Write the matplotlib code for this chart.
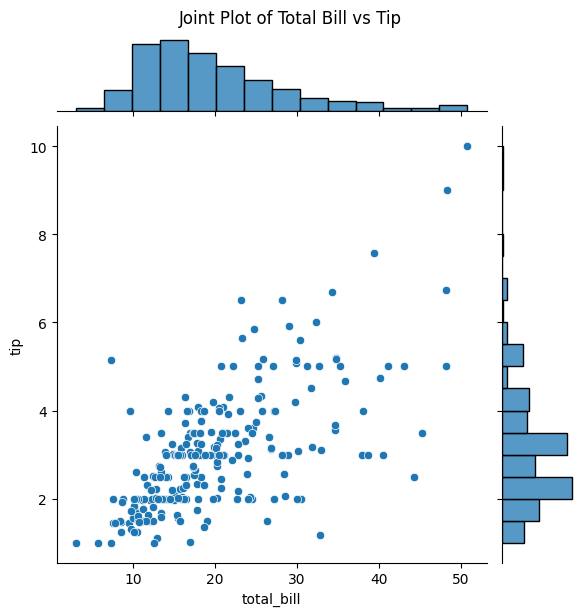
import numpy as np
import pandas as pd
import matplotlib
matplotlib.use("Agg")
import matplotlib.pyplot as plt
import seaborn as sns

total_bill = [16.99, 10.34, 21.01, 23.68, 24.59, 25.29, 8.77, 26.88, 15.04, 14.78,
              10.27, 35.26, 15.42, 18.43, 14.83, 21.58, 10.33, 16.29, 16.97, 20.65,
              17.92, 20.29, 15.77, 39.42, 19.82, 17.81, 13.37, 12.69, 21.70, 19.65,
              9.55, 18.35, 15.06, 20.69, 17.78, 24.06, 16.31, 16.93, 18.69, 31.27,
              16.04, 17.46, 13.94, 9.68, 30.40, 18.29, 22.23, 32.40, 28.55, 18.04,
              12.54, 10.29, 34.81, 9.94, 25.56, 19.49, 38.01, 26.41, 11.24, 48.27,
              20.29, 13.81, 11.02, 18.29, 17.59, 20.08, 16.45, 3.07, 20.23, 15.01,
              12.02, 17.07, 26.86, 25.28, 14.73, 10.51, 17.92, 27.20, 22.76, 17.29,
              19.44, 16.66, 10.07, 32.68, 15.98, 34.83, 13.03, 18.28, 24.71, 21.16,
              28.97, 22.49, 5.75, 16.32, 22.75, 40.17, 27.28, 12.03, 21.01, 12.46,
              11.35, 15.38, 44.30, 22.42, 20.92, 15.36, 20.49, 25.21, 18.24, 14.31,
              14.00, 7.25, 38.07, 23.95, 25.71, 17.31, 29.93, 10.65, 12.43, 24.08,
              11.69, 13.42, 14.26, 15.95, 12.48, 29.80, 8.52, 14.52, 11.38, 22.82,
              19.08, 20.27, 11.17, 12.26, 18.26, 8.51, 10.33, 14.15, 16.00, 13.16,
              17.47, 34.30, 41.19, 27.05, 16.43, 8.35, 18.64, 11.87, 9.78, 7.51,
              14.07, 13.13, 17.26, 24.55, 19.77, 29.85, 48.17, 25.00, 13.39, 16.49,
              21.50, 12.66, 16.21, 13.81, 17.51, 24.52, 20.76, 31.71, 10.59, 10.63,
              50.81, 15.81, 7.25, 31.85, 16.82, 32.90, 17.89, 14.48, 9.60, 34.63,
              34.65, 23.33, 45.35, 23.17, 40.55, 20.69, 20.90, 30.46, 18.15, 23.10,
              15.69, 19.81, 28.44, 15.48, 16.58, 7.56, 10.34, 43.11, 13.00, 13.51,
              18.71, 12.74, 13.00, 16.40, 20.53, 16.47, 26.59, 38.73, 24.27, 12.76,
              30.06, 25.89, 48.33, 13.27, 28.17, 12.90, 28.15, 11.59, 7.74, 30.14,
              12.16, 13.42, 8.58, 15.98, 13.42, 16.27, 10.09, 20.45, 13.28, 22.12,
              24.01, 15.69, 11.61, 10.77, 15.53, 10.07, 12.60, 32.83, 35.83, 29.03,
              27.18, 22.67, 17.82, 18.78]

tip = [1.01, 1.66, 3.50, 3.31, 3.61, 4.71, 2.00, 3.12, 1.96, 3.23,
       1.71, 5.00, 1.57, 3.00, 3.02, 3.92, 1.67, 3.71, 3.50, 3.35,
       4.08, 2.75, 2.23, 7.58, 3.18, 2.34, 2.00, 2.00, 4.30, 3.00,
       1.45, 2.50, 3.00, 2.45, 3.27, 3.60, 2.00, 3.07, 2.31, 5.00,
       2.24, 2.54, 3.06, 1.32, 5.60, 3.00, 5.00, 6.00, 2.05, 3.00,
       2.50, 2.60, 5.20, 1.56, 4.34, 3.51, 3.00, 1.50, 1.76, 6.73,
       3.21, 2.00, 1.98, 3.76, 2.64, 3.15, 2.47, 1.00, 2.01, 2.09,
       1.97, 3.00, 3.14, 5.00, 2.20, 1.25, 3.08, 4.00, 3.00, 2.71,
       3.00, 3.40, 1.83, 5.00, 2.03, 5.17, 2.00, 4.00, 5.85, 3.00,
       3.00, 3.50, 1.00, 4.30, 3.25, 4.73, 4.00, 1.50, 3.00, 1.50,
       2.50, 3.00, 2.50, 3.48, 4.08, 1.64, 4.06, 4.29, 3.76, 4.00,
       3.00, 1.00, 4.00, 2.55, 4.00, 3.50, 5.07, 1.50, 1.80, 2.92,
       2.31, 1.68, 2.50, 2.00, 2.52, 4.20, 1.48, 2.00, 2.00, 2.18,
       1.50, 2.83, 1.50, 2.00, 3.25, 1.25, 2.00, 2.00, 2.00, 2.75,
       3.50, 6.70, 5.00, 5.00, 2.30, 1.50, 1.36, 1.63, 1.73, 2.00,
       2.50, 2.00, 2.74, 2.00, 2.00, 5.14, 5.00, 3.75, 2.61, 2.00,
       3.50, 2.50, 2.00, 2.00, 3.00, 3.48, 2.24, 4.50, 1.61, 2.00,
       10.00, 3.16, 5.15, 3.18, 4.00, 3.11, 2.00, 2.00, 4.00, 3.55,
       3.68, 5.65, 3.50, 6.50, 3.00, 5.00, 3.50, 2.00, 3.50, 4.00,
       1.50, 4.19, 2.56, 2.02, 4.00, 1.44, 2.00, 5.00, 2.00, 2.00,
       4.00, 2.01, 2.00, 2.50, 4.00, 3.23, 3.41, 3.00, 2.03, 2.23,
       2.00, 5.16, 9.00, 2.50, 6.50, 1.10, 3.00, 1.50, 1.44, 3.09,
       2.20, 3.48, 1.92, 3.00, 1.58, 2.50, 2.00, 3.00, 2.72, 2.88,
       2.00, 3.00, 3.39, 1.47, 3.00, 1.25, 1.00, 1.17, 4.67, 5.92,
       2.00, 2.00, 1.75, 3.00]

df = pd.DataFrame({"total_bill": total_bill, "tip": tip})

g = sns.jointplot(data=df, x="total_bill", y="tip")
g.fig.suptitle("Joint Plot of Total Bill vs Tip", y=1.02)
g.fig.savefig("out.png", dpi=100, bbox_inches="tight")
